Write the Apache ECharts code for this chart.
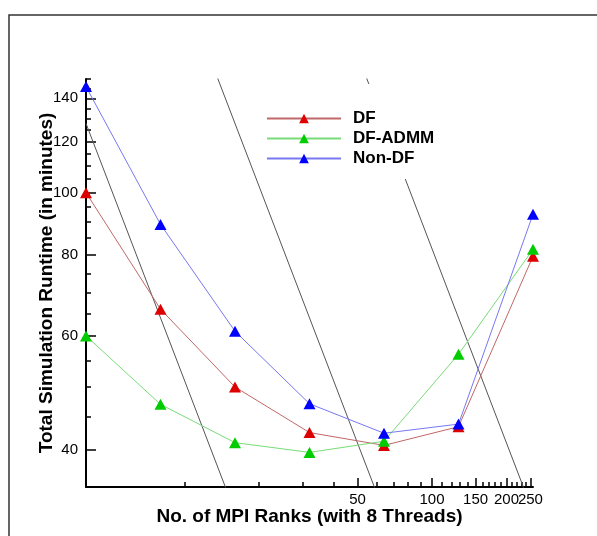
<!DOCTYPE html>
<html>
<head>
<meta charset="utf-8">
<script src="https://cdn.jsdelivr.net/npm/echarts@6/dist/echarts.min.js"></script>
<style>
  html, body { margin: 0; padding: 0; background: #fff; }
  #chart { width: 597px; height: 536px; }
</style>
</head>
<body>
<div id="chart"></div>
<script>
// 数据
const ranks = [4, 8, 16, 32, 64, 128, 256];
const dfTime = [100, 66, 50, 42.5, 40.6, 43.4, 79.7];
const admmTime = [60, 47, 41, 39.6, 41.2, 56.2, 81.7];
const nonDfTime = [146, 89.3, 61, 47.1, 42.4, 43.8, 92.6];

// 理想缩放线 (端点)
const idealA = [[4, 128], [16, 32]];
const idealB = [[8, 256], [64, 32]];
const idealC = [[32, 256], [256, 32]];

// 刻度 (200 单独一条轴, 避免与 250 重叠时被隐藏)
const xMajor = [50, 100, 150, 250];
const xMajor2 = [200];
const xMinor = [10, 20, 30, 40, 60, 70, 80, 90, 110, 120, 130, 140, 160, 170, 180, 190, 210, 220, 230, 240];
const yMajor = [40, 60, 80, 100, 120, 140];
const yMinor = [35, 45, 50, 55, 65, 70, 75, 85, 90, 95, 105, 110, 115, 125, 130, 135, 145, 150];

const font = "'Liberation Sans', Arial, sans-serif";

function logAxis(pos, min, max, ticks, len, withLine, withLabel) {
  return {
    type: 'log',
    position: pos,
    min: min,
    max: max,
    splitLine: { show: false },
    axisLine: { show: withLine, onZero: false, lineStyle: { color: '#000', width: 2 } },
    axisTick: { show: true, inside: true, length: len, customValues: ticks, lineStyle: { color: '#000', width: 1.5 } },
    axisLabel: withLabel
      ? { show: true, customValues: ticks, color: '#000', fontSize: 15, fontFamily: font,
          hideOverlap: false, showMinLabel: true, showMaxLabel: true }
      : { show: false }
  };
}

const chart = echarts.init(document.getElementById('chart'));

const xMain = logAxis('bottom', 4, 256, xMajor, 9, true, true);
xMain.axisLabel.margin = 5;
xMain.name = 'No. of MPI Ranks (with 8 Threads)';
xMain.nameLocation = 'middle';
xMain.nameGap = 20;
xMain.nameMoveOverlap = false;
xMain.nameTextStyle = { color: '#000', fontSize: 19, fontWeight: 'bold', fontFamily: font };

const x200 = logAxis('bottom', 4, 256, xMajor2, 9, false, true);
x200.axisLabel.margin = 5;

const yMain = logAxis('left', 35, 150, yMajor, 10, true, true);
yMain.name = 'Total Simulation Runtime (in minutes)';
yMain.nameLocation = 'middle';
yMain.nameGap = 30;
yMain.nameMoveOverlap = false;
yMain.nameTextStyle = { color: '#000', fontSize: 19, fontWeight: 'bold', fontFamily: font };

function idealLine(data) {
  return {
    type: 'line', data: data, symbol: 'none', silent: true, z: 1,
    lineStyle: { color: '#555', width: 1 }
  };
}

function runSeries(name, data, lineColor, markColor) {
  return {
    name: name,
    type: 'line',
    data: ranks.map((r, i) => [r, data[i]]),
    symbol: 'triangle',
    symbolSize: [12, 11],
    z: 3,
    lineStyle: { color: lineColor, width: 1 },
    itemStyle: { color: markColor }
  };
}

chart.setOption({
  animation: false,
  backgroundColor: '#fff',
  grid: { left: 86, top: 79, right: 64, bottom: 49 },
  xAxis: [xMain, x200, logAxis('bottom', 4, 256, xMinor, 5, false, false)],
  yAxis: [yMain, logAxis('left', 35, 150, yMinor, 5, false, false)],
  legend: {
    data: ['DF', 'DF-ADMM', 'Non-DF'],
    orient: 'vertical',
    left: 260,
    top: 84,
    padding: [26, 12, 12, 6],
    backgroundColor: '#fff',
    itemWidth: 74,
    itemHeight: 12,
    itemGap: 3,
    textStyle: { color: '#000', fontSize: 17, lineHeight: 14, fontWeight: 'bold', fontFamily: font, padding: [0, 0, 0, 7] }
  },
  graphic: [{
    type: 'rect',
    shape: { x: 9, y: 15, width: 700, height: 700 },
    style: { fill: null, stroke: '#333', lineWidth: 1.5 },
    silent: true
  }],
  series: [
    idealLine(idealA),
    idealLine(idealB),
    idealLine(idealC),
    runSeries('DF', dfTime, '#c06868', '#dd0000'),
    runSeries('DF-ADMM', admmTime, '#78dc78', '#00cc00'),
    runSeries('Non-DF', nonDfTime, '#7878f0', '#0000ff')
  ]
});
</script>
</body>
</html>
